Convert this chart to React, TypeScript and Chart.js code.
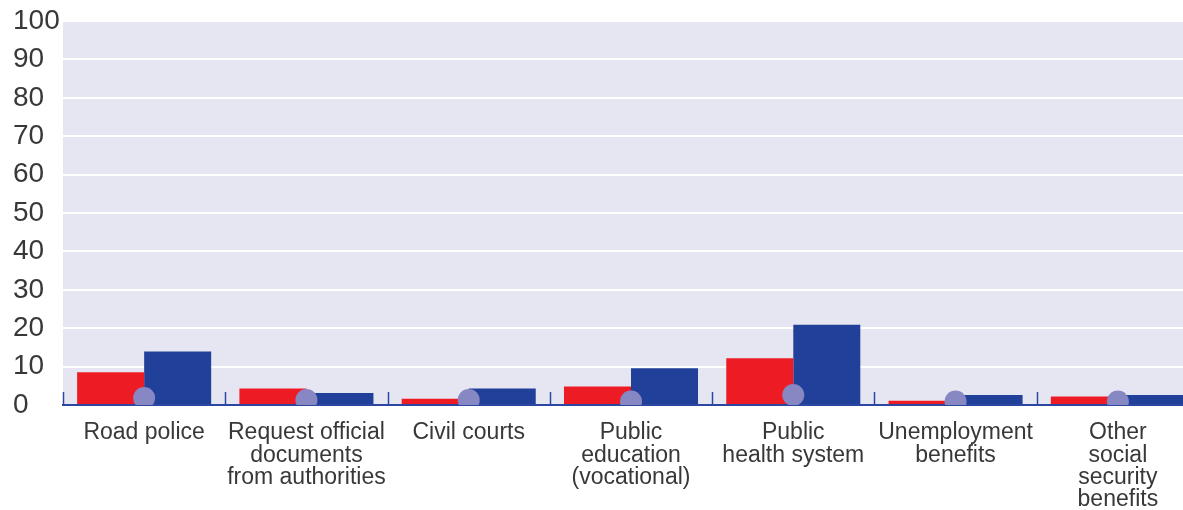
import React, { useEffect, useRef } from "react";
import { Chart, registerables } from "chart.js";

Chart.register(...registerables);

const categories: string[][] = [
  ["Road police"],
  ["Request official", "documents", "from authorities"],
  ["Civil courts"],
  ["Public", "education", "(vocational)"],
  ["Public", "health system"],
  ["Unemployment", "benefits"],
  ["Other", "social", "security", "benefits"],
];
const redValues = [8.5, 4.3, 1.6, 4.8, 12.2, 1.1, 2.2];
const blueValues = [13.9, 3.1, 4.3, 9.6, 20.9, 2.6, 2.6];
const dotValues = [1.8, 1.3, 1.3, 0.9, 2.6, 0.9, 0.9];
const yTicks = [0, 10, 20, 30, 40, 50, 60, 70, 80, 90, 100];

const bgPlugin = {
  id: "bgPlugin",
  beforeDraw(chart: any) {
    const { ctx, chartArea } = chart;
    ctx.save();
    ctx.fillStyle = "#E6E6F2";
    ctx.fillRect(chartArea.left, chartArea.top - 1, chartArea.right - chartArea.left, chartArea.bottom - chartArea.top + 1);
    ctx.restore();
  },
  afterDatasetsDraw(chart: any) {
    const { ctx, chartArea } = chart;
    const xs = chart.scales.x;
    ctx.save();
    ctx.strokeStyle = "#2B47A0";
    ctx.lineWidth = 1.5;
    for (let i = 0; i <= categories.length; i++) {
      const x = Math.round(xs.getPixelForValue(i - 0.5)) + 0.5;
      ctx.beginPath();
      ctx.moveTo(x, chartArea.bottom);
      ctx.lineTo(x, chartArea.bottom - 13);
      ctx.stroke();
    }
    ctx.restore();
  },
};

export default function App() {
  const ref = useRef<HTMLCanvasElement | null>(null);
  useEffect(() => {
    if (!ref.current) return;
    const chart = new Chart(ref.current, {
      type: "bar",
      data: {
        labels: categories,
        datasets: [
          {
            type: "line",
            data: dotValues,
            showLine: false,
            pointRadius: 11,
            pointHoverRadius: 11,
            pointBackgroundColor: "#8787C4",
            pointBorderWidth: 0,
            borderWidth: 0,
            order: 0,
          } as any,
          {
            data: redValues,
            backgroundColor: "#ED1C24",
            categoryPercentage: 0.826,
            barPercentage: 1,
            order: 1,
          },
          {
            data: blueValues,
            backgroundColor: "#21409A",
            categoryPercentage: 0.826,
            barPercentage: 1,
            order: 1,
          },
        ],
      },
      options: {
        animation: false,
        responsive: false,
        maintainAspectRatio: false,
        layout: { autoPadding: false, padding: { left: 13, right: 1, top: 21, bottom: 0 } },
        plugins: { legend: { display: false }, tooltip: { enabled: false } },
        scales: {
          x: {
            offset: true,
            grid: { display: false, drawTicks: false },
            border: { display: true, color: "#2B47A0", width: 2 },
            ticks: {
              padding: 17,
              color: "#383838",
              maxRotation: 0,
              autoSkip: false,
              font: { family: "'Liberation Sans', Arial, sans-serif", size: 23, lineHeight: 0.97 },
            },
            afterFit(scale: any) {
              scale.height = 105;
              scale.paddingLeft = 0;
              scale.paddingRight = 0;
            },
          },
          y: {
            min: 0,
            max: 100,
            afterBuildTicks(scale: any) {
              scale.ticks = yTicks.map((v) => ({ value: v }));
            },
            grid: { color: "#FFFFFF", lineWidth: 2, drawTicks: false },
            border: { display: false },
            ticks: {
              padding: 0,
              crossAlign: "far",
              color: "#383838",
              font: { family: "'Liberation Sans', Arial, sans-serif", size: 28 },
            },
            afterFit(scale: any) {
              scale.width = 50;
              scale.paddingTop = 0;
              scale.paddingBottom = 0;
            },
          },
        },
      },
      plugins: [bgPlugin],
    });
    return () => chart.destroy();
  }, []);

  return (
    <div style={{ position: "fixed", left: 0, top: 0, width: 1183, height: 510, overflow: "hidden", background: "#fff" }}>
      <canvas ref={ref} width={1200} height={510} style={{ display: "block", width: 1200, height: 510 }} />
    </div>
  );
}
